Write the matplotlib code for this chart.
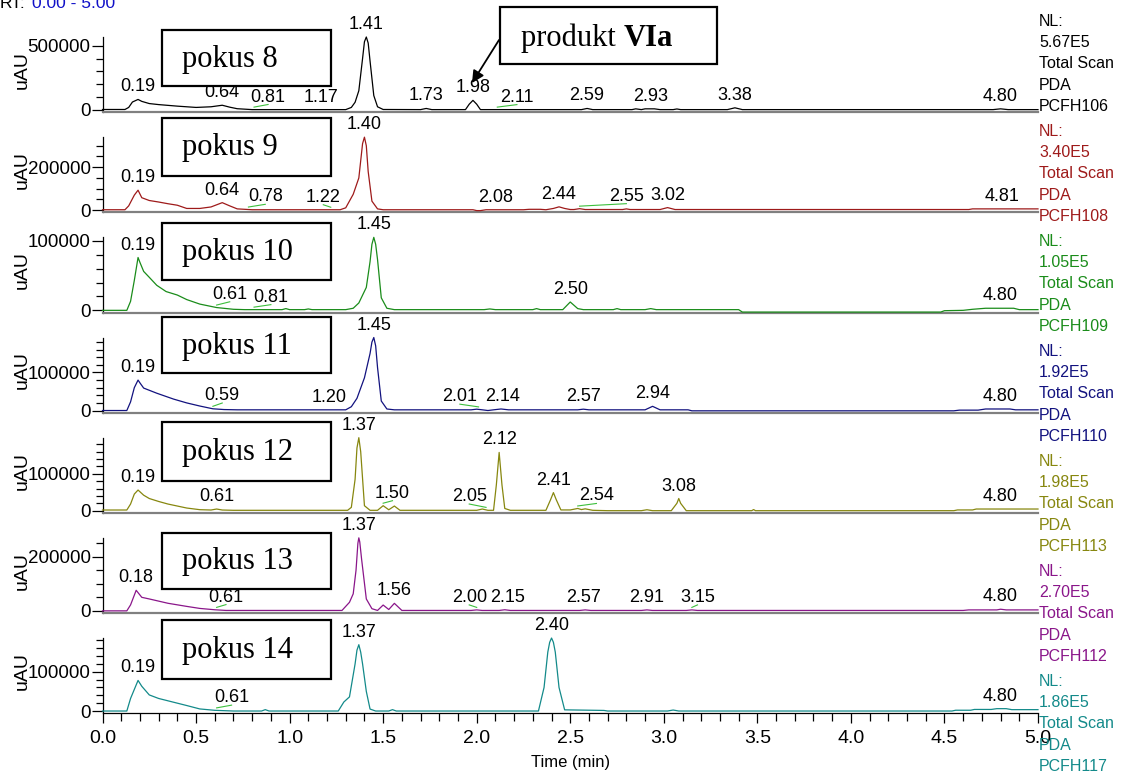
import matplotlib
matplotlib.use("Agg")
import numpy as np
import matplotlib.pyplot as plt
from matplotlib.patches import Rectangle, FancyArrowPatch
from matplotlib.ticker import FixedLocator, MultipleLocator, FormatStrFormatter

# ---------------------------------------------------------------- data
# PDA total-scan chromatograms: retention time (min) / signal (uAU)
t8 = [0.00, 0.12, 0.14, 0.16, 0.19, 0.21, 0.25, 0.30, 0.40, 0.50,
      0.58, 0.64, 0.68, 0.72, 0.80, 1.30, 1.33, 1.35, 1.37, 1.39,
      1.40, 1.41, 1.42, 1.43, 1.45, 1.47, 1.50, 1.70, 1.73, 1.76,
      1.94, 1.96, 1.98, 2.00, 2.02, 2.56, 2.59, 2.62, 2.83, 2.85,
      2.88, 2.90, 2.95, 2.98, 3.05, 3.07, 3.09, 3.34, 3.38, 3.42,
      4.76, 4.80, 4.84, 5.00]
y8 = [4000, 4000, 20000, 62000, 82000, 67000, 50000, 42000, 30000, 20000,
      25000, 37000, 22000, 10000, 3000, 3000, 20000, 60000, 150000, 400000,
      530000, 567000, 520000, 380000, 112000, 25000, 4000, 3000, 12000, 3000,
      3000, 45000, 75000, 45000, 3000, 3000, 12000, 3000, 3000, 9000,
      3000, 9000, 9000, 3000, 3000, 8000, 3000, 3000, 17000, 3000,
      3000, 9000, 3000, 3000]

t9 = [0.00, 0.12, 0.14, 0.17, 0.19, 0.21, 0.25, 0.30, 0.35, 0.40,
      0.45, 0.52, 0.58, 0.64, 0.68, 0.72, 0.80, 1.27, 1.30, 1.34,
      1.37, 1.39, 1.40, 1.41, 1.42, 1.44, 1.47, 1.50, 1.98, 2.00,
      2.02, 2.05, 2.25, 2.28, 2.34, 2.37, 2.41, 2.44, 2.47, 2.50,
      2.52, 2.55, 2.58, 2.78, 2.80, 2.82, 2.98, 3.02, 3.06, 4.63,
      4.65, 5.00]
y9 = [2000, 2000, 20000, 70000, 93000, 58000, 45000, 38000, 30000, 23000,
      8000, 8000, 15000, 35000, 20000, 6000, 2000, 2000, 11000, 74000,
      150000, 310000, 340000, 300000, 180000, 42000, 6000, 2000, 2000, -2000,
      -2000, 2000, 2000, 4000, 4000, 2000, 8000, 15500, 8000, 3000,
      3000, 7000, 3000, 3000, 6000, 3000, 3000, 12000, 3000, 3000,
      6000, 6000]

t10 = [0.00, 0.13, 0.15, 0.17, 0.19, 0.20, 0.22, 0.25, 0.29, 0.34,
       0.40, 0.45, 0.52, 0.61, 0.70, 0.76, 0.96, 0.98, 1.00, 1.08,
       1.10, 1.12, 1.30, 1.34, 1.37, 1.41, 1.43, 1.44, 1.45, 1.46,
       1.47, 1.49, 1.52, 1.56, 2.04, 2.07, 2.10, 2.30, 2.32, 2.34,
       2.46, 2.50, 2.54, 2.57, 2.73, 2.75, 2.77, 2.90, 2.93, 2.96,
       3.40, 3.42, 4.48, 4.50, 4.60, 4.65, 4.72, 4.87, 4.90, 5.00]
y10 = [0, 0, 13000, 43000, 76000, 69000, 56000, 47500, 36000, 27000,
       22000, 15500, 9000, 4000, 1500, 1000, 1000, 2500, 1000, 1000,
       2000, 1000, 1000, 3000, 10600, 33000, 70000, 95000, 105000, 95000,
       73000, 18000, 3000, 1000, 1000, 2000, 1000, 1000, 2500, 1000,
       1000, 12000, 2500, 1000, 1000, 2500, 1000, 1000, 2500, 1000,
       1000, -2500, -2500, -500, 0, 1500, 3000, 3000, 1000, 1000]

t11 = [0.00, 0.13, 0.15, 0.17, 0.19, 0.20, 0.22, 0.29, 0.38, 0.45,
       0.52, 0.59, 0.65, 0.72, 1.30, 1.33, 1.36, 1.40, 1.43, 1.44,
       1.45, 1.46, 1.47, 1.49, 1.52, 1.56, 1.97, 2.00, 2.03, 2.06,
       2.09, 2.13, 2.17, 2.54, 2.57, 2.60, 2.90, 2.94, 2.98, 3.13,
       3.15, 4.55, 4.58, 4.68, 4.72, 4.85, 4.88, 5.00]
y11 = [0, 0, 22700, 60000, 80000, 72700, 59000, 45500, 30000, 20000,
       11800, 4500, 2500, 1800, 1800, 10000, 32000, 86000, 150000, 180000,
       192000, 170000, 113000, 25000, 4000, 1800, 1800, 3500, 1800, 0,
       1800, 4000, 1800, 1800, 3500, 1800, 1800, 11000, 1800, 1800,
       -800, -800, 1000, 1000, 4000, 4000, 1800, 1800]

t12 = [0.00, 0.13, 0.15, 0.17, 0.19, 0.22, 0.25, 0.30, 0.35, 0.45,
       0.52, 0.58, 0.61, 0.64, 0.70, 1.31, 1.33, 1.35, 1.36, 1.37,
       1.38, 1.40, 1.43, 1.47, 1.50, 1.53, 1.56, 1.59, 2.00, 2.03,
       2.06, 2.09, 2.105, 2.12, 2.135, 2.15, 2.18, 2.37, 2.395, 2.41,
       2.425, 2.45, 2.50, 2.54, 2.56, 2.58, 2.62, 2.70, 2.88, 2.91,
       2.94, 3.04, 3.07, 3.08, 3.09, 3.12, 3.47, 3.48, 3.49, 4.55,
       4.57, 4.65, 4.67, 5.00]
y12 = [1800, 1800, 18000, 45000, 56000, 42000, 33000, 25000, 18000, 7200,
       2700, 1800, 4500, 1800, 1000, 1000, 9000, 85000, 170000, 198000,
       160000, 13500, 1000, 1000, 13500, 2500, 12600, 1000, 1000, 4500,
       1000, 1000, 70000, 158000, 70000, 6000, 1000, 1000, 30000, 49000,
       30000, 2000, 2000, 6000, 3000, 5000, 1000, 0, 0, 2500,
       0, 0, 20000, 33000, 20000, 0, 0, 3000, 0, 0,
       2000, 2000, 4500, 4500]

t13 = [0.00, 0.13, 0.15, 0.18, 0.21, 0.25, 0.35, 0.45, 0.52, 0.60,
       0.66, 1.28, 1.32, 1.34, 1.355, 1.365, 1.37, 1.375, 1.385, 1.41,
       1.44, 1.47, 1.50, 1.53, 1.56, 1.60, 1.97, 2.00, 2.03, 2.12,
       2.15, 2.18, 2.55, 2.58, 2.61, 2.88, 2.91, 2.94, 3.12, 3.15,
       3.18, 4.60, 4.63, 4.78, 4.80, 4.83, 5.00]
y13 = [0, 0, 22000, 76000, 50000, 44000, 28000, 16500, 9000, 4000,
       1500, 1500, 31600, 63000, 150000, 250000, 270000, 255000, 190000, 44000,
       8000, 1500, 21500, 5000, 27800, 1500, 1500, 3500, 1500, 1500,
       4000, 1500, 1500, 3500, 1500, 1500, 3500, 1500, 1500, 3500,
       1500, 1500, 3500, 3500, 6000, 3500, 3500]

t14 = [0.00, 0.13, 0.15, 0.19, 0.21, 0.25, 0.30, 0.35, 0.45, 0.52,
       0.60, 0.70, 0.85, 0.87, 0.89, 1.26, 1.29, 1.32, 1.35, 1.36,
       1.37, 1.38, 1.39, 1.41, 1.43, 1.46, 1.53, 1.55, 1.57, 2.33,
       2.36, 2.38, 2.39, 2.40, 2.41, 2.42, 2.44, 2.47, 2.68, 2.70,
       3.02, 3.05, 3.08, 4.54, 4.56, 4.64, 4.66, 4.75, 4.78, 4.83,
       4.86, 5.00]
y14 = [0, 0, 32000, 78000, 63000, 41000, 32000, 26000, 14000, 5300,
       1800, 0, 0, 3500, 0, 0, 23000, 36000, 120000, 155000,
       169000, 150000, 120000, 50000, 5000, 0, 0, 3500, 0, 0,
       60000, 150000, 175000, 186000, 175000, 150000, 60000, 3000, 1500, 0,
       0, 2500, 0, 0, 2000, 2000, 4000, 4000, 6000, 6000,
       3500, 3500]

# normalisation level (NL) of every trace
nl_values = [5.67e5, 3.40e5, 1.05e5, 1.92e5, 1.98e5, 2.70e5, 1.86e5]

# retention times printed above the peaks
rt8 = ["0.19", "0.64", "0.81", "1.17", "1.41", "1.73", "1.98", "2.11", "2.59", "2.93", "3.38", "4.80"]
rt9 = ["0.19", "0.64", "0.78", "1.22", "1.40", "2.08", "2.44", "2.55", "3.02", "4.81"]
rt10 = ["0.19", "0.61", "0.81", "1.45", "2.50", "4.80"]
rt11 = ["0.19", "0.59", "1.20", "1.45", "2.01", "2.14", "2.57", "2.94", "4.80"]
rt12 = ["0.19", "0.61", "1.37", "1.50", "2.05", "2.12", "2.41", "2.54", "3.08", "4.80"]
rt13 = ["0.18", "0.61", "1.37", "1.56", "2.00", "2.15", "2.57", "2.91", "3.15", "4.80"]
rt14 = ["0.19", "0.61", "1.37", "2.40", "4.80"]

run_names = ["pokus 8", "pokus 9", "pokus 10", "pokus 11", "pokus 12", "pokus 13", "pokus 14"]
file_names = ["PCFH106", "PCFH108", "PCFH109", "PCFH110", "PCFH113", "PCFH112", "PCFH117"]
ytick_labelled = [500000, 200000, 100000, 100000, 100000, 200000, 100000]
ytick_minor = [100000, 50000, 20000, 20000, 20000, 50000, 20000]
x_ticks = [0.0, 0.5, 1.0, 1.5, 2.0, 2.5, 3.0, 3.5, 4.0, 4.5, 5.0]

# ---------------------------------------------------------------- style
colors = ["#000000", "#9e1a1a", "#1a8c1a", "#12127f", "#87870f", "#8a168a", "#138a8a"]
SANS = ["Liberation Sans", "DejaVu Sans"]
SERIF = ["Liberation Serif", "DejaVu Serif"]
plt.rcParams["font.family"] = SANS

W, H = 1125, 775
fig = plt.figure(figsize=(W / 100, H / 100), dpi=100)
fig.patch.set_facecolor("white")


def fx(x):
    return x / W


def fy(y):
    return 1 - y / H


# horizontal placement of labels moved off their peak (minutes)
label_shift = {
    (0, "0.81"): 0.075, (0, "2.11"): 0.105,
    (1, "0.78"): 0.09, (1, "1.22"): -0.04, (1, "2.08"): 0.02, (1, "2.55"): 0.25,
    (2, "0.61"): 0.07, (2, "0.81"): 0.09,
    (3, "0.59"): 0.05, (3, "1.20"): 0.01, (3, "2.01"): -0.10,
    (4, "1.50"): 0.05, (4, "2.05"): -0.09, (4, "2.54"): 0.10,
    (5, "0.61"): 0.05, (5, "2.00"): -0.04, (5, "2.15"): 0.015, (5, "3.15"): 0.03,
    (6, "0.61"): 0.08,
}

box_rows = [(30, 86), (118, 176), (223, 280), (317, 373), (422, 481), (533, 589), (620, 679)]

X_LEFT, X_RIGHT = 102.5, 1038.0
AX_H = 73.0          # pixels from 0 to NL
BASE0, STEP = 110.0, 100.17


def nl_text(v):
    e = int(np.floor(np.log10(v)))
    return f"{v / 10 ** e:.2f}E{e}"


traces = [(t8, y8, rt8), (t9, y9, rt9), (t10, y10, rt10), (t11, y11, rt11),
          (t12, y12, rt12), (t13, y13, rt13), (t14, y14, rt14)]

for i, (tt, yy, rts) in enumerate(traces):
    nl = nl_values[i]
    c = colors[i]
    base = BASE0 + STEP * i
    pad = 0.03
    top_px = base - AX_H
    bot_px = base + AX_H * pad
    ax = fig.add_axes([fx(X_LEFT), fy(bot_px), (X_RIGHT - X_LEFT) / W, (bot_px - top_px) / H])
    ax.set_xlim(0, 5)
    ax.set_ylim(-pad * nl, nl)
    ax.patch.set_alpha(0)
    ax.plot(tt, yy, color=c, lw=0.9, clip_on=False, zorder=3)

    for s in ("top", "right"):
        ax.spines[s].set_visible(False)
    ax.spines["left"].set_linewidth(0.9)
    ax.yaxis.set_major_locator(FixedLocator([0, ytick_labelled[i]]))
    ax.yaxis.set_minor_locator(MultipleLocator(ytick_minor[i]))
    ax.yaxis.set_major_formatter(FormatStrFormatter("%d"))
    ax.tick_params(axis="y", which="major", length=8, width=0.9, labelsize=13.5, pad=0.5)
    ax.tick_params(axis="y", which="minor", length=5.3, width=0.9)

    if i < 6:
        ax.spines["bottom"].set_color("#808080")
        ax.spines["bottom"].set_linewidth(1.6)
        ax.tick_params(axis="x", which="both", bottom=False, labelbottom=False)
    else:
        ax.spines["bottom"].set_linewidth(0.9)
        ax.xaxis.set_major_locator(FixedLocator(x_ticks))
        ax.xaxis.set_minor_locator(MultipleLocator(0.1))
        ax.xaxis.set_major_formatter(FormatStrFormatter("%.1f"))
        ax.tick_params(axis="x", which="major", length=7, width=0.9, labelsize=14, pad=5)
        ax.tick_params(axis="x", which="minor", length=5.5, width=0.9)

    # retention-time labels above the peaks
    per_px = nl / AX_H
    grid = np.linspace(0, 5, 2001)
    trace_fine = np.interp(grid, tt, yy)
    for s in rts:
        rt = float(s)
        sh = label_shift.get((i, s), 0.0)
        lx = rt + sh
        lo, hi = min(rt, lx) - 0.02, max(rt, lx) + 0.02
        top = trace_fine[(grid >= lo) & (grid <= hi)].max()
        ax.annotate(s, xy=(lx, top), xytext=(0, 4), textcoords="offset pixels",
                    ha="center", va="bottom", fontsize=13, color="black",
                    annotation_clip=False, zorder=4)
        if abs(sh) >= 0.03:
            y0 = np.interp(rt, tt, yy) + 2.5 * per_px
            ax.plot([rt, lx], [y0, top + 5 * per_px], color="#3cbf3c", lw=0.8,
                    clip_on=False, zorder=4)

    # y-axis title
    fig.text(fx(22), fy(base - 40), "uAU", rotation=90, ha="center", va="center", fontsize=14)

    # trace description block on the right
    lines = ["NL:", nl_text(nl), "Total Scan", "PDA", file_names[i]]
    y_start = 21 + 110.0 * i
    for k, txt in enumerate(lines):
        fig.text(fx(1039), fy(y_start + 21.4 * k), txt, ha="left", va="center",
                 fontsize=11.5, color=c)

    # experiment box
    btop, bbot = box_rows[i]
    fig.add_artist(Rectangle((fx(162), fy(bbot)), (331 - 162) / W, (bbot - btop) / H,
                             transform=fig.transFigure, facecolor="white",
                             edgecolor="black", lw=1.6, zorder=10))
    fig.text(fx(182), fy((btop + bbot) / 2 + 1), run_names[i], ha="left", va="center",
             fontsize=22, family=SERIF, zorder=11)

fig.text(0.5 * (fx(X_LEFT) + fx(X_RIGHT)), fy(763), "Time (min)", ha="center",
         va="center", fontsize=12)

# header
fig.text(0.0, fy(4), "RT:", ha="left", va="center", fontsize=12.5, color="black")
fig.text(fx(32), fy(4), "0.00 - 5.00", ha="left", va="center", fontsize=12.5, color="#1010c8")

# product callout
fig.add_artist(Rectangle((fx(500), fy(64)), (717 - 500) / W, (64 - 7) / H,
                         transform=fig.transFigure, facecolor="white",
                         edgecolor="black", lw=1.6, zorder=10))
t_prod = fig.text(fx(521), fy(38), "produkt ", ha="left", va="center", fontsize=22,
                  family=SERIF, zorder=11)
renderer = fig.canvas.get_renderer()
bb = t_prod.get_window_extent(renderer=renderer)
fig.text(bb.x1 / W, fy(38), "VIa", ha="left", va="center", fontsize=22,
         family=SERIF, weight="bold", zorder=11)
fig.add_artist(FancyArrowPatch(
    (fx(499), fy(40)), (fx(472), fy(83)), transform=fig.transFigure,
    arrowstyle="-|>", mutation_scale=18, color="black", lw=1.3,
    shrinkA=0, shrinkB=0, zorder=12))

fig.savefig("out.png", dpi=100, facecolor="white")
